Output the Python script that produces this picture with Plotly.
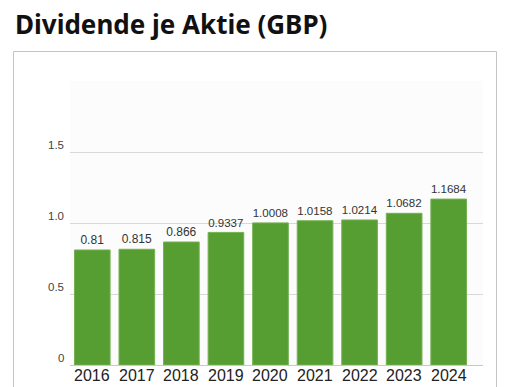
import plotly.graph_objects as go

# Dividend per share (GBP) by fiscal year
years = ["2016", "2017", "2018", "2019", "2020", "2021", "2022", "2023", "2024"]
dividends = [0.81, 0.815, 0.866, 0.9337, 1.0008, 1.0158, 1.0214, 1.0682, 1.1684]
value_labels = ["0.81", "0.815", "0.866", "0.9337", "1.0008", "1.0158", "1.0214", "1.0682", "1.1684"]
y_ticks = [0, 0.5, 1.0, 1.5]
y_tick_text = ["0", "0.5", "1.0", "1.5"]

W, H = 505, 387
L, R, T, B = 70, 22, 81, 22
pw, ph = W - L - R, H - T - B

def px_x(x):
    return (x - L) / pw

def px_y(y):
    return (H - B - y) / ph

fig = go.Figure()
fig.add_trace(go.Bar(
    x=list(range(len(years))),
    y=dividends,
    marker=dict(color="#579e32", line=dict(color="#74b152", width=1)),
    text=value_labels,
    textposition="outside",
    textfont=dict(family="Arial, Liberation Sans, sans-serif", size=12, color="#333333"),
    cliponaxis=False,
    width=0.8,
    hoverinfo="skip",
))

# outer frame around the chart panel
fig.add_shape(type="rect", xref="paper", yref="paper",
              x0=px_x(13.5), x1=px_x(496.5), y0=px_y(420), y1=px_y(51.5),
              line=dict(color="#c4c4c4", width=1), fillcolor="rgba(0,0,0,0)", layer="below")

# y tick labels sit just above their gridlines
for v, t in zip(y_ticks, y_tick_text):
    fig.add_annotation(
        x=px_x(65.5), xref="paper", xanchor="right",
        y=v, yref="y", yanchor="bottom", yshift=-1,
        text=t, showarrow=False,
        font=dict(family="Arial, Liberation Sans, sans-serif", size=11.5, color="#444444"),
    )

# year labels directly under the baseline
for i, yr in enumerate(years):
    fig.add_annotation(
        x=i, xref="x", xanchor="center",
        y=px_y(365.5), yref="paper", yanchor="top", yshift=1,
        text=yr, showarrow=False,
        font=dict(family="Arial, Liberation Sans, sans-serif", size=16, color="#222222"),
    )

fig.update_layout(
    width=W, height=H,
    margin=dict(l=L, r=R, t=T, b=B, pad=0, autoexpand=False),
    paper_bgcolor="white",
    plot_bgcolor="#fcfcfc",
    showlegend=False,
    title=dict(text="<b>Dividende je Aktie (GBP)</b>", x=15 / W, xanchor="left",
               y=1 - 25 / H, yanchor="middle", automargin=False,
               font=dict(family="Noto Sans, sans-serif", size=26, color="#111111")),
    bargap=0.2,
    font=dict(family="Arial, Liberation Sans, sans-serif"),
)
fig.update_xaxes(
    range=[-0.5, 8.77], automargin=False,
    tickmode="array", tickvals=list(range(len(years))), showticklabels=False,
    showgrid=False, zeroline=False,
    showline=True, linecolor="#c8c8c8", linewidth=1,
    ticks="",
)
fig.update_yaxes(
    range=[0, 2.0], automargin=False,
    tickmode="array", tickvals=y_ticks, showticklabels=False,
    showgrid=True, gridcolor="#d8d8d8", gridwidth=1,
    zeroline=False, showline=False, ticks="",
)

fig.write_html("out.html")
